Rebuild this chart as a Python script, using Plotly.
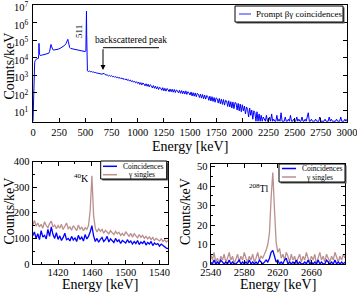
import plotly.graph_objects as go

W, H = 357, 292


def px(x):
    return x / W


def py(y):
    return 1 - y / H


FONT = "Liberation Serif"
BLUE = "#0000ff"
BROWN = "#bc8f8f"

# ---------------- data ----------------
# Top panel: prompt beta-gamma coincidence spectrum (counts/keV)
E_LOW = [0, 2, 4, 6, 8, 10, 13, 16, 20, 25,
         30, 40, 48, 52, 55, 57, 59, 61, 64, 70,
         80, 90, 100, 110, 120, 130, 140, 150, 158, 166,
         172, 176, 182, 190, 200, 220, 240, 260, 280, 300,
         315, 325, 333, 338, 344, 350, 360, 380, 400, 425,
         450, 475, 497, 505, 509, 511, 513, 515, 518]
C_LOW = [0, 12, 0, 30, 300, 1500, 3000, 5000, 6500, 7500,
         8000, 8500, 8500, 9000, 1.5e4, 6.5e4, 4e4, 2e4, 1.5e4, 1.3e4,
         1.35e4, 1.4e4, 1.45e4, 1.5e4, 1.55e4, 1.6e4, 1.65e4, 1.75e4, 2.2e4, 3.8e4,
         5.6e4, 4.5e4, 3.2e4, 2.8e4, 2.7e4, 2.8e4, 3e4, 3.4e4, 4e4, 4.8e4,
         6.3e4, 8.5e4, 1.1e5, 8e4, 5e4, 3.8e4, 3.3e4, 3.1e4, 3e4, 2.8e4,
         2.6e4, 2.4e4, 2.2e4, 2.4e4, 1.2e5, 4.5e6, 2e5, 6000, 2200]
E_HIGH = list(range(520, 3001, 10))
C_HIGH = [
    # 520-700
    1750, 1600, 1680, 1560, 1590, 1450, 1500, 1380, 1400, 1270,
    1310, 1200, 1220, 1120, 1150, 1130, 1230, 1040, 1020,
    # 710-1000
    1010, 880, 960, 850, 930, 800, 860, 750, 820, 700,
    770, 650, 720, 620, 680, 570, 630, 540, 600, 500,
    560, 460, 520, 420, 480, 390, 450, 360, 410, 330,
    # 1010-1500
    400, 290, 370, 270, 350, 310, 240, 320, 230, 300,
    210, 280, 250, 185, 250, 175, 235, 160, 215, 150,
    200, 180, 135, 190, 125, 175, 120, 170, 150, 112,
    160, 110, 155, 105, 150, 100, 140, 128, 95, 135,
    90, 130, 86, 122, 82, 125, 78, 112, 98, 72,
    # 1510-2000
    108, 64, 98, 62, 95, 58, 90, 80, 52, 82,
    48, 78, 44, 72, 42, 68, 60, 36, 62, 33,
    58, 31, 52, 28, 50, 44, 25, 46, 23, 42,
    21, 40, 19, 36, 33, 16, 34, 15, 30, 13,
    29, 12, 27, 25, 10, 24, 9, 22, 8, 20,
    # 2010-2200
    9, 17, 6, 15, 11, 4, 13, 5, 10, 3,
    9, 7, 2, 8, 1, 6, 0, 5, 2, 4,
    # 2210-3000
    3, 0, 5, 1, 0, 4, 0, 6, 0, 3,
    0, 0, 5, 0, 3, 0, 7, 0, 2, 0,
    4, 0, 0, 3, 0, 5, 0, 0, 3, 0,
    0, 4, 0, 3, 0, 0, 4, 0, 0, 3,
    0, 5, 7, 0, 0, 3, 0, 0, 0, 3,
    0, 0, 0, 4, 0, 0, 0, 0, 3, 0,
    0, 0, 4, 0, 3, 0, 0, 0, 0, 3,
    0, 0, 0, 4, 0, 0, 0, 3, 0, 3,
]

# Bottom-left: 40K region
E_K = list(range(1390, 1551, 2))
K_COINC = [110, 125, 100, 118, 95, 130, 105, 112, 98, 135,
           108, 145, 115, 100, 122, 96, 110, 92, 104, 120,
           95, 100, 90, 108, 94, 102, 88, 112, 96, 105,
           90, 115, 98, 108, 125, 150, 110, 88, 100, 85,
           96, 104, 88, 95, 108, 86, 98, 90, 84, 100,
           88, 94, 80, 92, 86, 82, 95, 84, 90, 78,
           88, 80, 92, 76, 86, 80, 90, 74, 84, 78,
           88, 72, 82, 76, 80, 70, 78, 72, 66, 62, 60]
K_SINGLES = [150, 170, 148, 160, 145, 155, 140, 165, 150, 142,
             158, 168, 145, 152, 138, 150, 140, 155, 135, 148,
             160, 138, 145, 132, 150, 140, 130, 152, 136, 144,
             130, 142, 135, 150, 210, 345, 190, 140, 125, 138,
             128, 135, 120, 132, 125, 118, 130, 122, 115, 128,
             118, 124, 112, 120, 110, 126, 115, 108, 120, 105,
             118, 110, 102, 115, 104, 112, 100, 108, 98, 106,
             95, 104, 92, 100, 94, 90, 98, 88, 95, 86, 92]

# Bottom-right: 208Tl region
E_TL = list(range(2540, 2701, 2))
TL_COINC = [1, 0, 2, 0, 1, 0, 2, 1, 0, 1,
            0, 2, 0, 1, 0, 0, 1, 2, 0, 1,
            0, 1, 0, 2, 0, 1, 0, 1, 0, 2,
            1, 0, 1, 2, 1, 3, 6, 7, 4, 1,
            2, 0, 1, 0, 2, 3, 0, 1, 0, 1,
            0, 2, 0, 1, 0, 0, 1, 0, 2, 0,
            1, 0, 1, 0, 2, 0, 1, 0, 0, 2,
            1, 0, 1, 0, 2, 0, 1, 0, 1, 0, 1]
TL_SINGLES = [5, 2, 6, 1, 3, 0, 4, 2, 5, 1,
              3, 6, 2, 4, 0, 3, 5, 1, 4, 2,
              6, 3, 1, 4, 2, 5, 1, 3, 6, 2,
              4, 3, 5, 7, 10, 16, 34, 47, 28, 11,
              6, 8, 3, 5, 2, 6, 4, 1, 5, 2,
              4, 0, 3, 5, 1, 4, 2, 6, 3, 1,
              4, 2, 5, 0, 3, 6, 2, 4, 1, 5,
              3, 1, 4, 2, 6, 3, 1, 4, 2, 5, 3]

TOP_XTICKS = list(range(0, 3001, 250))
TOP_YEXP = [1, 2, 3, 4, 5, 6, 7]
K_XTICKS = [1420, 1460, 1500, 1540]
TL_XTICKS = [2540, 2580, 2620, 2660]

# plotting floor for empty bins on the log axis (draws them at the bottom edge)
FLOOR = 2.3

fig = go.Figure()

fig.add_trace(go.Scatter(
    x=E_LOW + E_HIGH,
    y=[max(c, FLOOR) for c in C_LOW + C_HIGH],
    mode="lines", line=dict(color=BLUE, width=1),
    name="Prompt βγ coincidences", xaxis="x", yaxis="y", showlegend=False))

fig.add_trace(go.Scatter(x=E_K, y=K_SINGLES, mode="lines",
                         line=dict(color=BROWN, width=1.3), name="γ singles",
                         xaxis="x2", yaxis="y2", showlegend=False))
fig.add_trace(go.Scatter(x=E_K, y=K_COINC, mode="lines",
                         line=dict(color=BLUE, width=1.3), name="Coincidences",
                         xaxis="x2", yaxis="y2", showlegend=False))
fig.add_trace(go.Scatter(x=E_TL, y=TL_SINGLES, mode="lines",
                         line=dict(color=BROWN, width=1.3), name="γ singles",
                         xaxis="x3", yaxis="y3", showlegend=False))
fig.add_trace(go.Scatter(x=E_TL, y=TL_COINC, mode="lines",
                         line=dict(color=BLUE, width=1.3), name="Coincidences",
                         xaxis="x3", yaxis="y3", showlegend=False))

tickfont = dict(family=FONT, size=10.5, color="black")
common = dict(showline=True, linecolor="black", linewidth=1, showgrid=False,
              zeroline=False, ticks="inside", ticklen=4, tickcolor="black",
              tickfont=tickfont, automargin=False, ticklabeloverflow="allow")

fig.update_layout(
    width=W, height=H,
    margin=dict(l=0, r=0, t=0, b=0, autoexpand=False),
    paper_bgcolor="white", plot_bgcolor="white",
    showlegend=False,
    font=dict(family=FONT, color="black"),
    xaxis=dict(domain=[px(33), px(347)], anchor="y", range=[0, 3000],
               tickvals=TOP_XTICKS, mirror=True, ticklabelstandoff=0, **common),
    yaxis=dict(domain=[py(122.3), py(5)], anchor="x", type="log", range=[0.30, 7.003],
               tickvals=[10 ** k for k in TOP_YEXP], showticklabels=False,
               mirror="ticks", **common),
    xaxis2=dict(domain=[px(32.7), px(168)], anchor="y2", range=[1390, 1550],
                tickvals=K_XTICKS, mirror="ticks", ticklabelstandoff=-2,
                minor=dict(dtick=20, tick0=1400, ticks="inside", ticklen=2.5, tickcolor="black"),
                **common),
    yaxis2=dict(domain=[py(264), py(161.5)], anchor="x2", range=[0, 400.5],
                dtick=100, tick0=0, mirror="ticks", ticklabelstandoff=0,
                minor=dict(dtick=50, tick0=0, ticks="inside", ticklen=2.5, tickcolor="black"),
                **common),
    xaxis3=dict(domain=[px(210.7), px(345)], anchor="y3", range=[2540, 2700],
                tickvals=TL_XTICKS, mirror="ticks", ticklabelstandoff=-2,
                minor=dict(dtick=20, tick0=2540, ticks="inside", ticklen=2.5, tickcolor="black"),
                **common),
    yaxis3=dict(domain=[py(264), py(164.3)], anchor="x3", range=[0, 51.2],
                dtick=10, tick0=0, mirror="ticks", ticklabelstandoff=0,
                minor=dict(dtick=5, tick0=0, ticks="inside", ticklen=2.5, tickcolor="black"),
                **common),
)

shapes = []
annotations = []


def text(x, y, s, size, angle=0, xanchor="center", color="black"):
    annotations.append(dict(x=px(x), y=py(y), xref="paper", yref="paper", text=s,
                            showarrow=False, textangle=angle, xanchor=xanchor,
                            yanchor="middle", font=dict(family=FONT, size=size, color=color)))


def legend_box(x0, y0, x1, y1):
    shapes.append(dict(type="rect", xref="paper", yref="paper",
                       x0=px(x0 + 1.5), x1=px(x1 + 1.5), y0=py(y1 + 1.5), y1=py(y0 + 1.5),
                       line=dict(width=0), fillcolor="#555555"))
    shapes.append(dict(type="rect", xref="paper", yref="paper",
                       x0=px(x0), x1=px(x1), y0=py(y1), y1=py(y0),
                       line=dict(color="black", width=1), fillcolor="white"))


def legend_line(x0, x1, y, color):
    shapes.append(dict(type="line", xref="paper", yref="paper",
                       x0=px(x0), x1=px(x1), y0=py(y), y1=py(y),
                       line=dict(color=color, width=1.5)))


# log-axis tick labels of the top panel (10^k), placed beside the ticks
for k in TOP_YEXP:
    annotations.append(dict(x=px(31), y=k, xref="paper", yref="y",
                            text=f"10<sup>{k}</sup>", showarrow=False,
                            xanchor="right", yanchor="middle", yshift=-1.5,
                            font=dict(family=FONT, size=10.5, color="black")))

# axis titles
text(190, 146, "Energy [keV]", 14)
text(8.5, 66, "Counts/keV", 14, angle=-90)
text(100, 284, "Energy [keV]", 14)
text(8.5, 211, "Counts/keV", 14, angle=-90)
text(278, 284, "Energy [keV]", 14)
text(185, 212, "Counts/keV", 14, angle=-90)

# top legend
legend_box(235, 6, 343, 22)
legend_line(239, 251, 14, "#6f6fff")
text(254, 14, "Prompt βγ coincidences", 9, xanchor="left")

# bottom-left legend
legend_box(100.7, 161, 166.7, 179)
legend_line(103, 117, 166.3, BLUE)
text(120.5, 166.3, "Coincidences", 7.5, xanchor="left")
legend_line(103, 117, 174.7, BROWN)
text(126, 174.7, "γ singles", 7.5, xanchor="left")

# bottom-right legend
legend_box(279, 164, 345, 182)
legend_line(282, 296, 168.5, BLUE)
text(299.5, 168.5, "Coincidences", 7.5, xanchor="left")
legend_line(282, 296, 177, BROWN)
text(304, 177, "γ singles", 7.5, xanchor="left")

# peak labels
text(79, 32, "511", 9, angle=-90)
text(130.5, 40, "backscattered peak", 9.5)
shapes.append(dict(type="line", xref="paper", yref="paper",
                   x0=px(103), x1=px(159), y0=py(47.7), y1=py(47.7),
                   line=dict(color="black", width=1)))
annotations.append(dict(x=px(103), y=py(70), xref="paper", yref="paper", text="",
                        showarrow=True, ax=0, ay=-22.3, arrowhead=2, arrowsize=1,
                        arrowwidth=1, arrowcolor="black"))
text(81, 178, "<sup>40</sup>K", 10)
text(259, 188, "<sup>208</sup>Tl", 10)

fig.update_layout(shapes=shapes, annotations=annotations)
fig.write_html("out.html", config={"displayModeBar": False},
               post_script="document.body.style.margin='0';document.body.style.overflow='hidden';")
